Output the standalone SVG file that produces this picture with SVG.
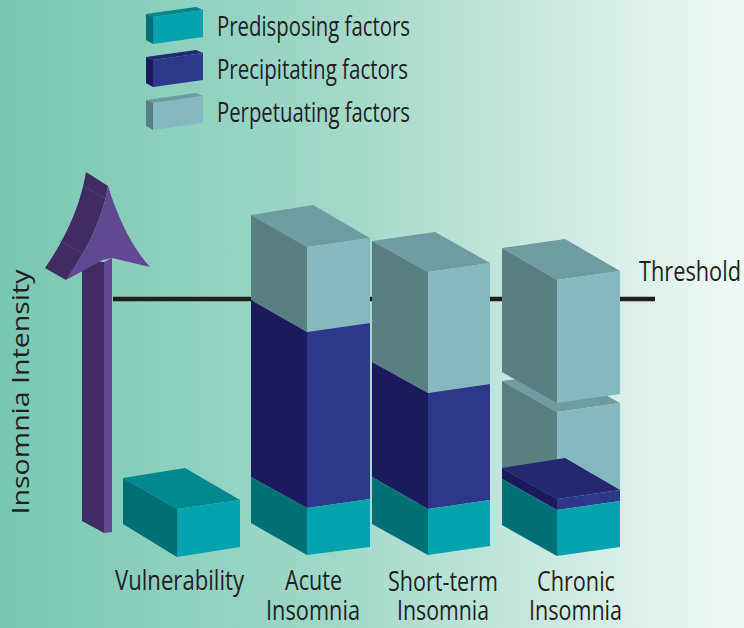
<svg xmlns="http://www.w3.org/2000/svg" width="744" height="628" viewBox="0 0 744 628">
<defs>
<linearGradient id="bg" x1="0" y1="0" x2="1" y2="0">
<stop offset="0" stop-color="#78c7b3"/>
<stop offset="0.45" stop-color="#a0d8c8"/>
<stop offset="1" stop-color="#f1f8f6"/>
</linearGradient>
<style>
.t{font-family:"Open Sans","Noto Sans","Liberation Sans",sans-serif;font-size:28px;fill:#231f20}
.pdF{fill:#04a3ad}.pdL{fill:#007076}.pdT{fill:#00878f}
.pcF{fill:#2e388a}.pcL{fill:#1b1a5e}.pcT{fill:#23286f}
.ppF{fill:#85b8bf}.ppL{fill:#597f82}.ppT{fill:#6f9ca0}
</style>
</defs>
<rect width="744" height="628" fill="url(#bg)"/>

<g id="legend-predisposing">
<polygon class="pdT" points="146,14 196,7 203,10 153,17"/>
<polygon class="pdL" points="146,14 153,17 153,44 146,40"/>
<polygon class="pdF" points="153,17 203,10 203,37 153,44"/>
<text class="t" x="217" y="36" textLength="193" lengthAdjust="spacingAndGlyphs">Predisposing factors</text>
</g>
<g id="legend-precipitating">
<polygon class="pcT" points="146,57 196,50 203,53 153,60"/>
<polygon class="pcL" points="146,57 153,60 153,87 146,83"/>
<polygon class="pcF" points="153,60 203,53 203,80 153,87"/>
<text class="t" x="217" y="79" textLength="191" lengthAdjust="spacingAndGlyphs">Precipitating factors</text>
</g>
<g id="legend-perpetuating">
<polygon class="ppT" points="146,100 196,93 203,96 153,103"/>
<polygon class="ppL" points="146,100 153,103 153,130 146,126"/>
<polygon class="ppF" points="153,103 203,96 203,123 153,130"/>
<text class="t" x="217" y="122" textLength="193" lengthAdjust="spacingAndGlyphs">Perpetuating factors</text>
</g>

<g id="threshold">
<line x1="113" y1="299" x2="655" y2="299" stroke="#231f20" stroke-width="4.5"/>
<text class="t" x="639" y="281" textLength="102" lengthAdjust="spacingAndGlyphs">Threshold</text>
</g>

<g id="axis-arrow">
<polygon fill="#412b63" points="82,262 104,262 104,533 82,521"/>
<polygon fill="#614892" points="104,262 112,258 112,532 104,533"/>
<path fill="#412b63" d="M86,172 L108,186 Q101,230 66,280 L45,268 Q78,220 86,172 Z"/>
<path fill="#614892" d="M108,186 Q125,240 150,267 L112,258 L103,260 L66,280 Q101,230 108,186 Z"/>
<line x1="83" y1="186" x2="105" y2="198" stroke="#5a4585" stroke-width="0.6"/>
<line x1="60" y1="241" x2="82" y2="253" stroke="#5a4585" stroke-width="0.6"/>
<text class="t" style="font-size:23px" transform="translate(29,392) rotate(-90)" text-anchor="middle" textLength="245" lengthAdjust="spacingAndGlyphs">Insomnia Intensity</text>
</g>

<g id="bar-vulnerability">
<polygon class="pdT" points="123,478 185,468 240,500 177,509"/>
<polygon class="pdL" points="123,478 177,509 177,557 123,524"/>
<polygon class="pdF" points="177,509 240,500 240,547 177,557"/>
<text class="t" x="115" y="590" textLength="129" lengthAdjust="spacingAndGlyphs">Vulnerability</text>
</g>

<g id="bar-acute">
<polygon class="ppT" points="251,215 313,205 370,238 307,247"/>
<polygon class="ppL" points="251,215 307,247 307,332 251,300"/>
<polygon class="ppF" points="307,247 370,238 370,323 307,332"/>
<polygon class="pcL" points="251,300 307,332 307,508 251,477"/>
<polygon class="pcF" points="307,332 370,323 370,499 307,508"/>
<polygon class="pdL" points="251,477 307,508 307,555 251,523"/>
<polygon class="pdF" points="307,508 370,499 370,547 307,555"/>
<text class="t" x="285" y="590" textLength="57" lengthAdjust="spacingAndGlyphs">Acute</text>
<text class="t" x="266" y="620" textLength="94" lengthAdjust="spacingAndGlyphs">Insomnia</text>
</g>

<g id="bar-short-term">
<polygon class="ppT" points="372,241 435,232 490,263 428,272"/>
<polygon class="ppL" points="372,241 428,272 428,393 372,362"/>
<polygon class="ppF" points="428,272 490,263 490,384 428,393"/>
<polygon class="pcL" points="372,362 428,393 428,509 372,477"/>
<polygon class="pcF" points="428,393 490,384 490,500 428,509"/>
<polygon class="pdL" points="372,477 428,509 428,555 372,524"/>
<polygon class="pdF" points="428,509 490,500 490,546 428,555"/>
<text class="t" x="388" y="591" textLength="110" lengthAdjust="spacingAndGlyphs">Short-term</text>
<text class="t" x="397" y="620" textLength="92" lengthAdjust="spacingAndGlyphs">Insomnia</text>
</g>

<g id="bar-chronic">
<polygon class="ppT" points="502,381 565,372 620,403 557,412"/>
<polygon class="ppL" points="502,381 557,412 557,499 502,468"/>
<polygon class="ppF" points="557,412 620,403 620,490 557,499"/>
<polygon class="pcT" points="502,468 565,458 620,490 557,499"/>
<polygon class="pcL" points="502,468 557,499 557,510 502,479"/>
<polygon class="pcF" points="557,499 620,490 620,501 557,510"/>
<polygon class="pdL" points="502,479 557,510 557,556 502,525"/>
<polygon class="pdF" points="557,510 620,501 620,547 557,556"/>
<polygon class="ppT" points="502,248 565,239 620,271 557,280"/>
<polygon class="ppL" points="502,248 557,280 557,403 502,372"/>
<polygon class="ppF" points="557,280 620,271 620,394 557,403"/>
<text class="t" x="537" y="591" textLength="78" lengthAdjust="spacingAndGlyphs">Chronic</text>
<text class="t" x="529" y="620" textLength="93" lengthAdjust="spacingAndGlyphs">Insomnia</text>
</g>
</svg>
